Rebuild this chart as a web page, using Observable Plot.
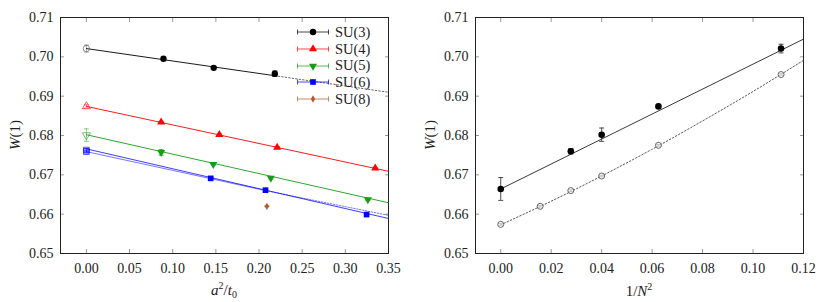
<!DOCTYPE html>
<html><head><meta charset="utf-8">
<script src="https://cdn.jsdelivr.net/npm/d3@7"></script>
<script src="https://cdn.jsdelivr.net/npm/@observablehq/plot@0.6"></script>
<style>
html,body{margin:0;padding:0;background:#fff;}
#wrap{position:relative;width:831px;height:302px;font-family:"Liberation Serif","Times New Roman",Times,"Tinos","DejaVu Serif","Noto Serif","FreeSerif",serif;color:#222;overflow:hidden;}
#left{position:absolute;left:0;top:0;}
#right{position:absolute;left:415px;top:0;}
.lab{position:absolute;font-size:15px;white-space:nowrap;line-height:1;}
.lab sup{font-size:10px;vertical-align:6px;}
.lab sub{font-size:10px;vertical-align:-3px;}
.rot{transform:translate(-50%,-50%) rotate(-90deg);}
.hc{transform:translate(-50%,-50%);}
#legend{position:absolute;left:296px;top:24px;font-size:14.5px;}
.row{height:16.7px;display:flex;align-items:center;}
.row svg{margin-right:3px;}
svg text{font-family:"Liberation Serif","Times New Roman",Times,"Tinos","DejaVu Serif","Noto Serif","FreeSerif",serif;}
</style></head><body>
<div id="wrap">
  <div id="left"></div><div id="right"></div>
  <div class="lab rot" style="left:15px;top:135px;"><i>W</i>(1)</div>
  <div class="lab hc" style="left:224px;top:290px;"><i>a</i><sup>2</sup>/<i>t</i><sub>0</sub></div>
  <div class="lab rot" style="left:430px;top:135px;"><i>W</i>(1)</div>
  <div class="lab hc" style="left:639px;top:290px;">1/<i>N</i><sup>2</sup></div>
  <div id="legend"></div>
</div>
<script>
// ---------- Data ----------
const groups = ["SU(3)", "SU(4)", "SU(5)", "SU(6)", "SU(8)"];
const colors = ["#000000", "#ff0000", "#169c16", "#0000ff", "#b25a2c"];

// Left panel: W(1) vs a^2/t0 at finite lattice spacing
const su3_x = [0.0893, 0.1475, 0.2183];
const su3_w = [0.6995, 0.6972, 0.6957];
const su3_e = [0.0002, 0.0002, 0.0007];
const su4_x = [0.0866, 0.1540, 0.2210, 0.3346];
const su4_w = [0.6834, 0.6802, 0.6770, 0.6717];
const su4_e = [0.0002, 0.0002, 0.0002, 0.0002];
const su5_x = [0.0866, 0.1470, 0.2137, 0.3261];
const su5_w = [0.6757, 0.6727, 0.6692, 0.6637];
const su5_e = [0.0007, 0.0002, 0.0002, 0.0002];
const su6_x = [0.1440, 0.2075, 0.3246];
const su6_w = [0.6691, 0.6661, 0.6599];
const su6_e = [0.0002, 0.0002, 0.0002];
const su8_x = [0.2091];
const su8_w = [0.6620];
const su8_e = [0.0001];

// Continuum values (open symbols at a^2/t0 = 0)
const cont_group = ["SU(3)", "SU(4)", "SU(5)", "SU(6)", "SU(6)"];
const cont_w = [0.7021, 0.6874, 0.6801, 0.6763, 0.6759];
const cont_e = [0.0009, 0.0004, 0.0016, 0.0004, 0.0003];

// Fit lines [a^2/t0, W] (solid parts and dotted extensions)
const fit_su3 = [[0, 0.7021], [0.2183, 0.6952]];
const fit_su3_ext = [[0.2183, 0.6952], [0.35, 0.6910]];
const fit_su4 = [[0, 0.6874], [0.35, 0.6709]];
const fit_su5 = [[0, 0.6802], [0.35, 0.6629]];
const fit_su6a = [[0, 0.6766], [0.35, 0.6589]];
const fit_su6b = [[0, 0.6759], [0.2075, 0.6660]];
const fit_su6b_ext = [[0.2075, 0.6660], [0.35, 0.6597]];

// Right panel: W(1) vs 1/N^2
const invN2 = [0, 0.02778, 0.04, 0.0625, 0.1111];
const wCont = [0.6664, 0.6760, 0.6802, 0.6874, 0.7021];
const wCont_e = [0.0029, 0.0007, 0.0017, 0.0005, 0.0011];
const invN2_fixed = [0, 0.015625, 0.02778, 0.04, 0.0625, 0.1111];
const wFixed = [0.6574, 0.6620, 0.6660, 0.6697, 0.6775, 0.6955];
const wFixed_e = [0.0002, 0.0002, 0.0002, 0.0002, 0.0002, 0.0002];
const fitCont = [[0, 0.6664], [0.12, 0.7045]];
const fitFixed_x = [0, 0.02, 0.04, 0.06, 0.08, 0.10, 0.12];
const fitFixed_w = [0.6573, 0.6633, 0.6697, 0.6765, 0.6837, 0.6912, 0.6991];

// Tick values
const leftXTicks = [0, 0.05, 0.10, 0.15, 0.20, 0.25, 0.30, 0.35];
const rightXTicks = [0, 0.02, 0.04, 0.06, 0.08, 0.10, 0.12];
const yTicks = [0.65, 0.66, 0.67, 0.68, 0.69, 0.70, 0.71];

// ---------- Helpers ----------
const sqrt3 = Math.sqrt(3);
const triDown = {draw(ctx, size) {
  const y = -Math.sqrt(size / (sqrt3 * 3));
  ctx.moveTo(0, -y * 2); ctx.lineTo(-sqrt3 * y, y); ctx.lineTo(sqrt3 * y, y); ctx.closePath();
}};
const capSym = {draw(ctx) { ctx.moveTo(-2.5, 0); ctx.lineTo(2.5, 0); }};
const symbols = [d3.symbolCircle, d3.symbolTriangle, triDown, d3.symbolSquare, d3.symbolDiamond];
const radii = [3.2, 3.0, 3.0, 3.2, 2.2];
const rows = (xs, ws, es, g) => xs.map((x, i) => ({x, w: ws[i], e: es[i], g}));
const pairs = (p) => p.map(([x, w]) => ({x, w}));
const fmt2 = d3.format(".2f");
const serifStack = "'Liberation Serif', 'Times New Roman', Times, Tinos, 'DejaVu Serif', 'Noto Serif', FreeSerif, serif";

function frameAxes(xticks) {
  const common = {label: null, fontSize: 14, stroke: "#9a9a9a", fill: "#222"};
  return [
    Plot.axisX(xticks, {anchor: "bottom", tickSize: -4, tickPadding: 14, tickFormat: fmt2, ...common}),
    Plot.axisX(xticks, {anchor: "top", tickSize: -4, tickFormat: () => "", ...common}),
    Plot.axisY(yTicks, {anchor: "left", tickSize: -4, tickPadding: 11, tickFormat: fmt2, ...common}),
    Plot.axisY(yTicks, {anchor: "right", tickSize: -4, tickFormat: () => "", ...common}),
    Plot.frame({stroke: "#222", strokeWidth: 1})
  ];
}
function errorBars(data, color, opacity = 1) {
  return [
    Plot.ruleX(data, {x: "x", y1: d => d.w - d.e, y2: d => d.w + d.e, stroke: color, strokeWidth: 0.8, strokeOpacity: opacity}),
    Plot.dot(data, {x: "x", y: d => d.w - d.e, symbol: capSym, stroke: color, strokeWidth: 0.8, strokeOpacity: opacity, fill: "none"}),
    Plot.dot(data, {x: "x", y: d => d.w + d.e, symbol: capSym, stroke: color, strokeWidth: 0.8, strokeOpacity: opacity, fill: "none"})
  ];
}
const plotStyle = {fontFamily: serifStack, fontSize: "14px", background: "white", color: "#222", overflow: "visible"};

// ---------- Left panel ----------
const series = [
  rows(su3_x, su3_w, su3_e, "SU(3)"),
  rows(su4_x, su4_w, su4_e, "SU(4)"),
  rows(su5_x, su5_w, su5_e, "SU(5)"),
  rows(su6_x, su6_w, su6_e, "SU(6)"),
  rows(su8_x, su8_w, su8_e, "SU(8)")
];
const contData = cont_group.map((g, i) => ({x: 0, w: cont_w[i], e: cont_e[i], g}));

const lw = 0.9;
const leftMarks = [
  ...frameAxes(leftXTicks),
  Plot.line(pairs(fit_su3), {x: "x", y: "w", stroke: colors[0], strokeWidth: lw}),
  Plot.line(pairs(fit_su3_ext), {x: "x", y: "w", stroke: "#555", strokeWidth: lw, strokeDasharray: "1.5,2"}),
  Plot.line(pairs(fit_su4), {x: "x", y: "w", stroke: colors[1], strokeWidth: lw}),
  Plot.line(pairs(fit_su5), {x: "x", y: "w", stroke: colors[2], strokeWidth: lw}),
  Plot.line(pairs(fit_su6a), {x: "x", y: "w", stroke: colors[3], strokeWidth: lw, strokeOpacity: 0.85}),
  Plot.line(pairs(fit_su6b), {x: "x", y: "w", stroke: colors[3], strokeWidth: lw, strokeOpacity: 0.6}),
  Plot.line(pairs(fit_su6b_ext), {x: "x", y: "w", stroke: colors[3], strokeWidth: lw, strokeOpacity: 0.6, strokeDasharray: "1.5,1.5"}),
];
series.forEach((s, i) => {
  leftMarks.push(...errorBars(s, colors[i]));
  leftMarks.push(Plot.dot(s, {x: "x", y: "w", symbol: symbols[i], r: radii[i], fill: colors[i], stroke: "none"}));
});
contData.forEach(d => {
  const i = groups.indexOf(d.g);
  const c = i === 0 ? "#555" : colors[i];
  leftMarks.push(...errorBars([d], c, 0.6));
  leftMarks.push(Plot.dot([d], {x: "x", y: "w", symbol: symbols[i], r: radii[i], fill: i === 3 ? c : "none", fillOpacity: 0.15, stroke: c, strokeOpacity: 0.7, strokeWidth: 0.9}));
});

const left = Plot.plot({
  width: 415, height: 302,
  marginLeft: 60, marginRight: 27, marginTop: 17, marginBottom: 49,
  x: {domain: [-0.03, 0.35]}, y: {domain: [0.65, 0.71]},
  style: plotStyle,
  marks: leftMarks
});
document.getElementById("left").appendChild(left);

// ---------- Right panel ----------
const contRows = rows(invN2, wCont, wCont_e, "cont");
const fixedRows = rows(invN2_fixed, wFixed, wFixed_e, "fixed");
const fixedCurve = fitFixed_x.map((x, i) => ({x, w: fitFixed_w[i]}));
const right = Plot.plot({
  width: 416, height: 302,
  marginLeft: 60, marginRight: 28, marginTop: 17, marginBottom: 49,
  x: {domain: [-0.01, 0.12]}, y: {domain: [0.65, 0.71]},
  style: plotStyle,
  marks: [
    ...frameAxes(rightXTicks),
    Plot.line(pairs(fitCont), {x: "x", y: "w", stroke: "#222", strokeWidth: lw}),
    Plot.line(fixedCurve, {x: "x", y: "w", stroke: "#444", strokeWidth: lw, strokeDasharray: "1.5,2", curve: "monotone-x"}),
    ...errorBars(fixedRows, "#555"),
    Plot.dot(fixedRows, {x: "x", y: "w", r: 3, fill: "white", fillOpacity: 0.6, stroke: "#555", strokeWidth: 0.9}),
    ...errorBars(contRows, "#222"),
    Plot.dot(contRows, {x: "x", y: "w", r: 3.3, fill: "#000", stroke: "none"})
  ]
});
document.getElementById("right").appendChild(right);

// ---------- Legend (HTML) ----------
const legend = d3.select("#legend");
groups.forEach((g, i) => {
  const row = legend.append("div").attr("class", "row");
  const svg = row.append("svg").attr("width", 36).attr("height", 16);
  const c = colors[i];
  svg.append("line").attr("x1", 1.5).attr("x2", 32.5).attr("y1", 8).attr("y2", 8).attr("stroke", c).attr("stroke-width", 0.9).attr("stroke-opacity", 0.8);
  [1.5, 32.5].forEach(x => svg.append("line").attr("x1", x).attr("x2", x).attr("y1", 5.5).attr("y2", 10.5).attr("stroke", c).attr("stroke-width", 0.9).attr("stroke-opacity", 0.8));
  svg.append("path").attr("transform", "translate(17,8)")
    .attr("d", d3.symbol(symbols[i], Math.PI * radii[i] * radii[i])())
    .attr("fill", c);
  row.append("span").text(g);
});
</script>
</body></html>
